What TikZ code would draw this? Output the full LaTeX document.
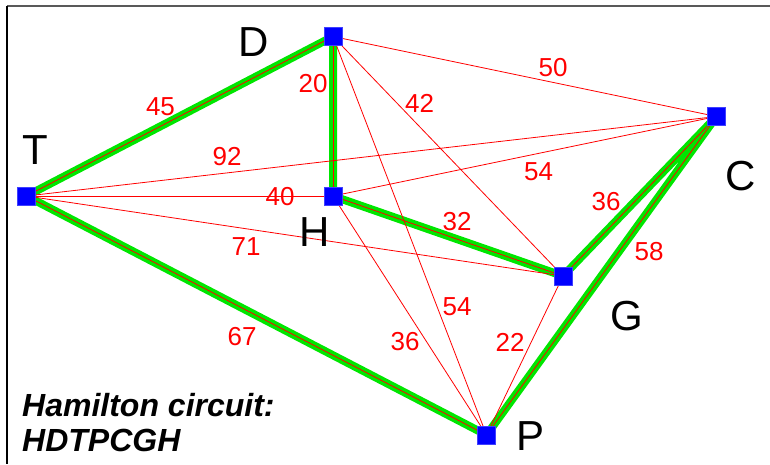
\documentclass[tikz,border=0pt]{standalone}
\usepackage{fontspec}
\setmainfont{Liberation Sans}
\pgfdeclarelayer{bg}
\pgfsetlayers{bg,main}
\definecolor{tourgreen}{RGB}{0,230,0}
\definecolor{vblue}{RGB}{0,0,255}
\begin{document}
\begin{tikzpicture}[x=1pt,y=-1pt,
  vert/.style={rectangle, fill=vblue, draw=blue!75!white, line width=0.6pt, minimum size=18pt, inner sep=0pt},
  wt/.style={text=red, font=\fontsize{26}{26}\selectfont, inner sep=0pt},
  lab/.style={text=black, font=\fontsize{42}{42}\selectfont, inner sep=0pt},
  captxt/.style={font=\fontsize{32}{35}\selectfont\bfseries\itshape, inner sep=0pt, anchor=base west},
  edge/.style={draw=red, line width=0.8pt},
  tour/.style={draw=tourgreen, line width=8pt}]
\useasboundingbox (0,0) rectangle (770,464);
\draw[black!65, line width=1.3pt] (7,6) -- (770,6);
\draw[black, line width=1.3pt] (7,6) -- (7,464);
% vertices
\node[vert] (D) at (333,36.5) {};
\node[vert] (T) at (26.5,196) {};
\node[vert] (H) at (333,196) {};
\node[vert] (C) at (716.5,116.5) {};
\node[vert] (G) at (563,276) {};
\node[vert] (P) at (486.5,435) {};
\begin{pgfonlayer}{bg}
% Hamilton circuit
\draw[tour] (H.center) -- (D.center) -- (T.center) -- (P.center) -- (C.center) -- (G.center) -- (H.center) -- cycle;
% all edges
\draw[edge] (T.center) -- (D.center);
\draw[edge] (T.center) -- (H.center);
\draw[edge] (T.center) -- (C.center);
\draw[edge] (T.center) -- (G.center);
\draw[edge] (T.center) -- (P.center);
\draw[edge] (D.center) -- (H.center);
\draw[edge] (D.center) -- (C.center);
\draw[edge] (D.center) -- (G.center);
\draw[edge] (D.center) -- (P.center);
\draw[edge] (H.center) -- (C.center);
\draw[edge] (H.center) -- (G.center);
\draw[edge] (H.center) -- (P.center);
\draw[edge] (G.center) -- (C.center);
\draw[edge] (C.center) -- (P.center);
\draw[edge] (G.center) -- (P.center);
\end{pgfonlayer}
% weights
\node[wt] (w45) at (160.5,107) {45};
\node[wt] (w20) at (313,84) {20};
\node[wt] (w92) at (227,157) {92};
\node[wt] (w40) at (280,197) {40};
\node[wt] (w71) at (246,247) {71};
\node[wt] (w67) at (242,337) {67};
\node[wt] (w50) at (553,68) {50};
\node[wt] (w42) at (419.5,103) {42};
\node[wt] (w54a) at (538.5,172) {54};
\node[wt] (w36a) at (606,202) {36};
\node[wt] (w32) at (457,222) {32};
\node[wt] (w58) at (649,252) {58};
\node[wt] (w54b) at (457,307) {54};
\node[wt] (w36b) at (405,342) {36};
\node[wt] (w22) at (510,342) {22};
% vertex letters
\node[lab] (lD) at (253.5,42) {D};
\node[lab] (lT) at (35,150) {T};
\node[lab] (lH) at (315,232) {H};
\node[lab] (lC) at (741,176) {C};
\node[lab] (lG) at (627,316) {G};
\node[lab] (lP) at (530,436) {P};
% caption
\node[captxt] (cap1) at (22,416) {Hamilton circuit:};
\node[captxt] (cap2) at (22,451) {HDTPCGH};
\end{tikzpicture}
\end{document}
